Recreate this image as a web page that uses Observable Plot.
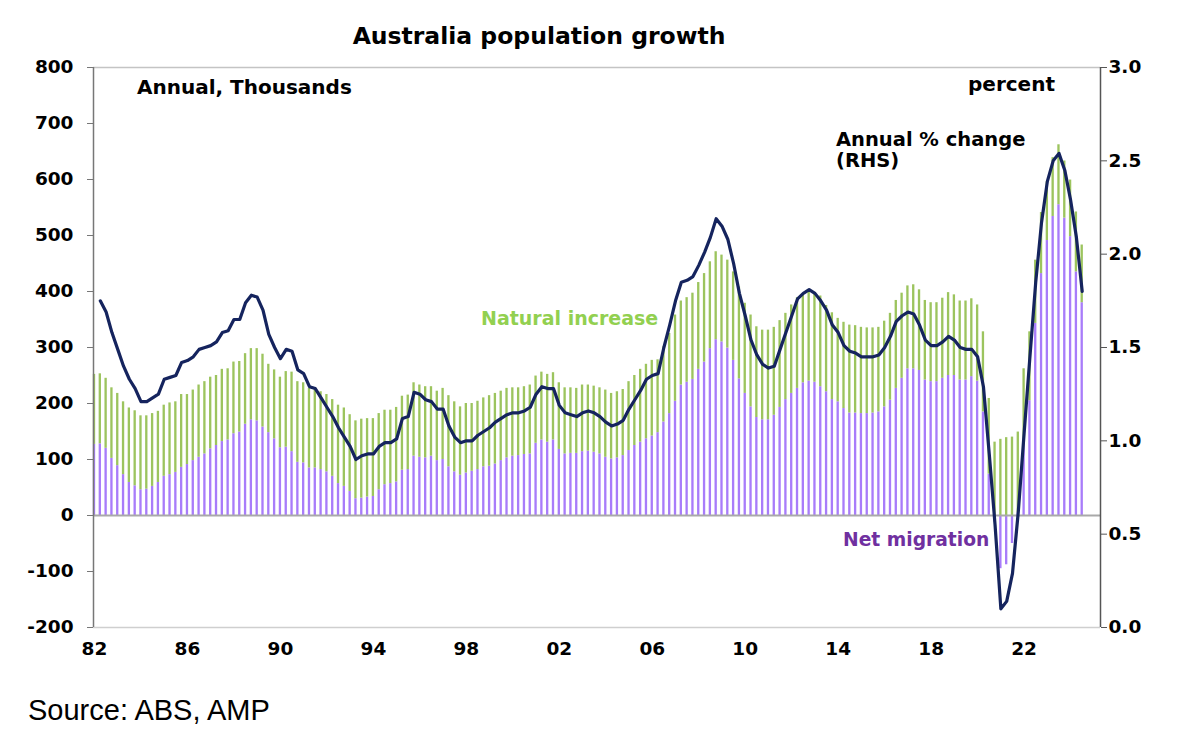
<!DOCTYPE html>
<html>
<head>
<meta charset="utf-8">
<script src="https://cdn.jsdelivr.net/npm/d3@7"></script>
<script src="https://cdn.jsdelivr.net/npm/@observablehq/plot@0.6"></script>
<style>
  html, body { margin: 0; padding: 0; background: #fff; }
  #chart { width: 1189px; height: 741px; }
</style>
</head>
<body>
<div id="chart"></div>
<script>
// Quarterly data, March quarter 1982 to September quarter 2024
const startYear = 1982;

// Net overseas migration, annual, thousands
const netMigration = [
  127,128,120,102,89,73,59,53,46,47,
  52,59,70,73,77,86,91,98,104,110,
  119,125,132,135,146,149,163,171,169,158,
  148,137,121,122,114,95,94,85,85,82,
  78,70,57,52,43,30,31,33,34,46,
  55,57,60,81,82,106,104,103,106,98,
  100,87,78,72,76,79,82,87,88,92,
  98,103,106,107,109,110,129,135,131,135,
  118,110,111,111,114,115,113,110,104,101,
  103,107,116,125,131,137,142,148,167,182,
  204,233,238,243,261,274,298,314,310,299,
  277,244,218,194,175,171,171,179,193,207,
  218,227,237,240,238,230,221,207,203,191,
  183,183,182,182,183,185,194,206,227,245,
  262,262,259,242,239,239,245,250,250,242,
  242,248,240,185,74,-12,-95,-88,-50,5,
  135,205,343,432,491,534,555,531,498,435,380
];

// Natural increase, annual, thousands
const naturalIncrease = [
  125,125,125,126,129,130,133,134,132,131,
  130,127,127,128,126,130,125,126,129,129,
  128,125,129,127,128,126,126,127,129,130,
  122,123,126,135,142,144,143,142,140,139,
  138,137,140,140,137,139,141,140,139,136,
  133,131,133,132,133,131,129,127,124,124,
  127,127,125,122,124,121,122,123,126,126,
  124,124,122,121,121,123,120,121,121,120,
  119,118,117,116,119,118,118,118,120,117,
  118,118,123,125,130,133,135,130,134,143,
  154,150,151,154,155,158,155,157,155,157,
  158,164,161,164,162,160,160,157,155,154,
  158,162,158,161,160,162,154,155,149,154,
  157,156,154,153,152,151,153,155,157,152,
  148,150,144,142,141,141,143,148,144,141,
  141,139,136,143,135,131,136,139,140,144,
  127,123,113,109,105,105,107,102,101,107,103
];

// Annual % change in population (RHS)
const annualPctChange = [
  null,1.75,1.69,1.58,1.49,1.40,1.33,1.28,1.21,1.21,
  1.23,1.25,1.33,1.34,1.35,1.42,1.43,1.45,1.49,1.50,
  1.51,1.53,1.58,1.59,1.65,1.65,1.74,1.78,1.77,1.70,
  1.57,1.50,1.44,1.49,1.48,1.38,1.36,1.29,1.28,1.23,
  1.18,1.13,1.07,1.02,0.97,0.90,0.92,0.93,0.93,0.97,
  0.99,0.99,1.01,1.12,1.13,1.26,1.25,1.22,1.21,1.17,
  1.17,1.08,1.02,0.99,1.00,1.00,1.03,1.05,1.07,1.10,
  1.12,1.14,1.15,1.15,1.16,1.18,1.25,1.29,1.28,1.28,
  1.19,1.15,1.14,1.13,1.15,1.16,1.15,1.13,1.10,1.08,
  1.09,1.11,1.17,1.22,1.27,1.33,1.35,1.36,1.50,1.62,
  1.75,1.85,1.86,1.88,1.94,2.01,2.09,2.19,2.15,2.08,
  1.95,1.79,1.67,1.54,1.46,1.41,1.39,1.40,1.49,1.58,
  1.67,1.76,1.79,1.81,1.79,1.75,1.70,1.62,1.58,1.51,
  1.48,1.47,1.45,1.45,1.45,1.46,1.50,1.56,1.64,1.67,
  1.69,1.68,1.62,1.54,1.51,1.51,1.53,1.56,1.54,1.50,
  1.49,1.49,1.45,1.29,0.93,0.55,0.10,0.14,0.29,0.62,
  1.04,1.45,1.85,2.17,2.39,2.50,2.54,2.45,2.29,2.09,1.80
];

const xTickYears = [1982,1986,1990,1994,1998,2002,2006,2010,2014,2018,2022];
const leftTicks = [-200,-100,0,100,200,300,400,500,600,700,800];
const rightTicks = [0,0.5,1,1.5,2,2.5,3];

const LEFT = [-200, 800];
const RIGHT = [0, 3];
const toLeft = v => LEFT[0] + (v - RIGHT[0]) * (LEFT[1] - LEFT[0]) / (RIGHT[1] - RIGHT[0]);
const toRight = v => RIGHT[0] + (v - LEFT[0]) * (RIGHT[1] - RIGHT[0]) / (LEFT[1] - LEFT[0]);

const quarterPos = netMigration.map((_, i) => startYear + i / 4);
const xDomain = [1981.957, 2025.287];

const bars = [];
quarterPos.forEach((t, i) => {
  const m = netMigration[i], n = naturalIncrease[i];
  bars.push({t, series: "Net migration", y1: 0, y2: m});
  const base = Math.max(m, 0);
  bars.push({t, series: "Natural increase", y1: base, y2: base + n});
});
const lineData = quarterPos.map((t, i) => ({t, v: annualPctChange[i]})).filter(d => d.v != null);

const FONT = "DejaVu Sans, Verdana, sans-serif";

const svg = Plot.plot({
  width: 1189,
  height: 741,
  marginLeft: 93,
  marginRight: 89,
  marginTop: 67,
  marginBottom: 114,
  style: {fontFamily: FONT, fontSize: "18.5px", fontWeight: "bold", color: "#000", background: "#fff", overflow: "visible"},
  x: {type: "linear", domain: xDomain, axis: null},
  y: {domain: LEFT, axis: null},
  color: {domain: ["Net migration", "Natural increase"], range: ["#a87cfa", "#9cc45e"]},
  marks: [
    Plot.rect(bars, {x1: d => d.t - 0.05, x2: d => d.t + 0.05, y1: "y1", y2: "y2", fill: "series"}),
    Plot.ruleY([800], {stroke: "#c4c4c4", strokeWidth: 1.5}),
    Plot.ruleY([-200], {stroke: "#cfcfcf", strokeWidth: 1.5}),
    Plot.ruleY([0], {stroke: "#a9a9a9", strokeWidth: 2}),
    Plot.ruleX([xDomain[0]], {stroke: "#777", strokeWidth: 1.5}),
    Plot.ruleX([xDomain[1]], {stroke: "#555", strokeWidth: 1.5}),
    Plot.axisY(leftTicks, {anchor: "left", tickSize: 6, tickPadding: 14, stroke: "#777", fill: "#000",
      fontSize: 18.5, fontWeight: "bold", tickFormat: d => String(d), label: null}),
    Plot.axisY(rightTicks.map(toLeft), {anchor: "right", tickSize: 6, tickPadding: 2, stroke: "#555", fill: "#000",
      fontSize: 18.5, fontWeight: "bold", tickFormat: d => toRight(d).toFixed(1), label: null}),
    Plot.axisX(xTickYears, {anchor: "bottom", tickSize: 0, tickPadding: 14, fill: "#000",
      fontSize: 18.5, fontWeight: "bold", tickFormat: d => String(d).slice(2), label: null}),
    Plot.line(lineData, {x: "t", y: d => toLeft(d.v), stroke: "#15245e", strokeWidth: 3.2, strokeLinejoin: "round", strokeLinecap: "round"})
  ]
});

const s = d3.select(svg);
const ann = s.append("g").attr("font-family", FONT).attr("font-weight", "bold");
function label(x, y, txt, size, fill, anchor) {
  ann.append("text").attr("x", x).attr("y", y).attr("font-size", size)
    .attr("fill", fill).attr("text-anchor", anchor || "start").text(txt);
}
label(539, 44, "Australia population growth", 23.5, "#000", "middle");
label(137, 94, "Annual, Thousands", 20, "#000");
label(968, 91, "percent", 20, "#000");
label(836, 146, "Annual % change", 19.5, "#000");
label(836, 167, "(RHS)", 19.5, "#000");
label(481, 325, "Natural increase", 19, "#92d050");
label(843, 546, "Net migration", 18.7, "#7030a0");
ann.append("text").attr("x", 28).attr("y", 720).attr("font-family", "Liberation Sans, Arial, sans-serif")
  .attr("font-weight", "normal").attr("font-size", 29).attr("fill", "#000")
  .attr("text-anchor", "start").text("Source: ABS, AMP");

document.getElementById("chart").appendChild(svg);
</script>
</body>
</html>
